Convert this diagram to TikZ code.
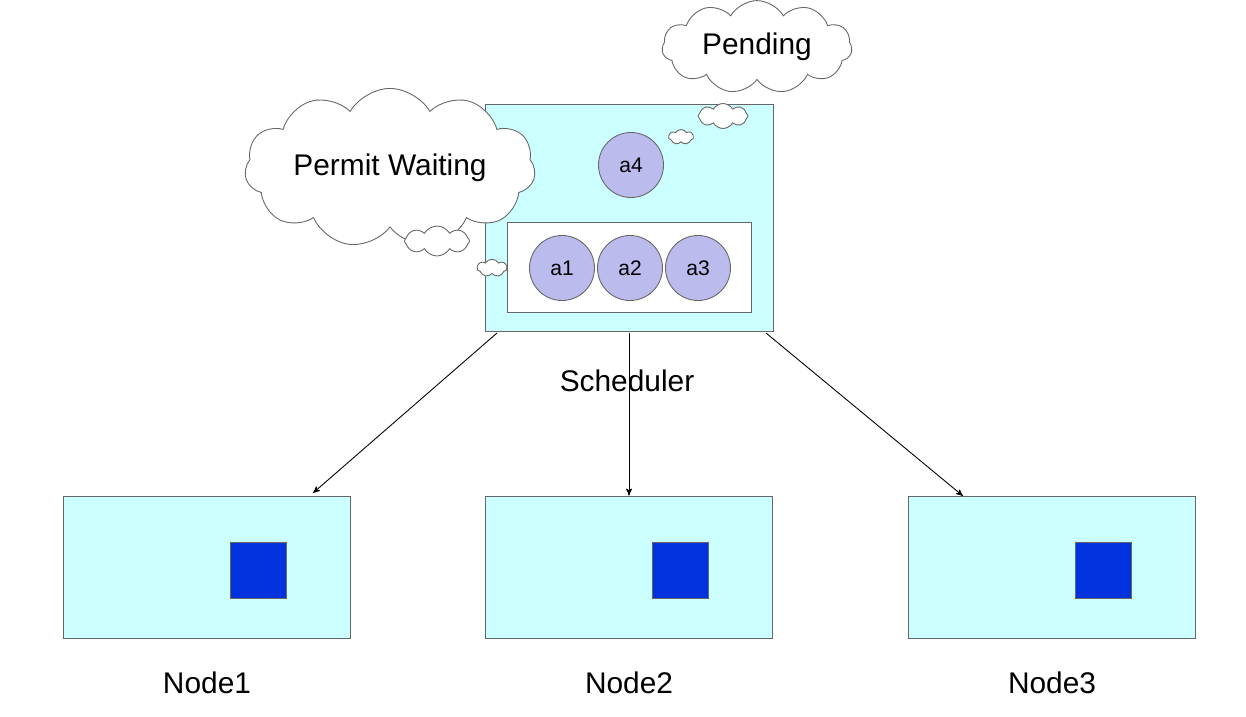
\documentclass[tikz,border=0pt]{standalone}
\usepackage{fontspec}
\setmainfont{Liberation Sans}
\usetikzlibrary{arrows,positioning,shapes.symbols}
\definecolor{boxfill}{HTML}{CCFFFF}
\definecolor{podfill}{HTML}{BBBBEE}
\definecolor{blockblue}{HTML}{0033DD}

\begin{document}
\begin{tikzpicture} [x=0.02cm,y=-0.02cm,line width=0.5pt,>=stealth',
  box/.style={draw=black!60,fill=boxfill,minimum width=5.74cm,minimum height=2.84cm},
  pod/.style={circle,draw=black!60,fill=podfill,minimum size=1.3cm,inner sep=0pt,font=\fontsize{12}{14}\selectfont},
  puff/.style={cloud,cloud puffs=11,cloud puff arc=120,aspect=2.4,draw=black!60,fill=white,inner sep=2pt},
  lbl/.style={font=\fontsize{17}{20}\selectfont}]
  \useasboundingbox (0,0) rectangle (1246,716);

  % scheduler
  \node[draw=black!60,fill=boxfill,minimum width=5.76cm,minimum height=4.54cm] (sched) at (629,218) {};
  \node[draw=black!60,fill=white,minimum width=4.88cm,minimum height=1.8cm] (queue) at (629,267) {};
  \node[pod] (a4) at (631,165) {a4};
  \node[pod] (a1) at (562,268) {a1};
  \node[pod] (a2) at (630,268) {a2};
  \node[pod] (a3) at (698,268) {a3};
  \node[lbl] (slabel) at (627,381) {Scheduler};

  % clouds
  \node[puff,minimum width=3.8cm,minimum height=1.55cm,lbl] (pending) at (757,47) {Pending};
  \node[puff,cloud puffs=8,minimum width=1cm,minimum height=0.5cm] (p1) at (723,116) {};
  \node[puff,cloud puffs=7,minimum width=0.5cm,minimum height=0.3cm,inner sep=0pt] (p2) at (681,137) {};
  \node[puff,minimum width=5.3cm,minimum height=1.9cm,lbl] (permit) at (390,168) {Permit Waiting};
  \node[puff,cloud puffs=8,minimum width=1.3cm,minimum height=0.6cm] (w1) at (437,241) {};
  \node[puff,cloud puffs=7,minimum width=0.6cm,minimum height=0.35cm,inner sep=0pt] (w2) at (492,268) {};

  % nodes
  \foreach \n/\x in {1/207,2/629,3/1052} {
    \node[box] (node\n) at (\x,567) {};
    \node[fill=blockblue,draw=black!60,minimum size=1.12cm] (blk\n) at (\x+51,570) {};
    \node[lbl] (name\n) at (\x,683) {Node\n};
  }

  \coordinate (s1) at (497,333);
  \coordinate (s2) at (629,333);
  \coordinate (s3) at (766,333);
  \coordinate (t1) at (313,493);
  \coordinate (t3) at (963,496);
  \draw[->] (s1) -- (t1);
  \draw[->] (s2) -- (node2.north);
  \draw[->] (s3) -- (t3);
\end{tikzpicture}
\end{document}
